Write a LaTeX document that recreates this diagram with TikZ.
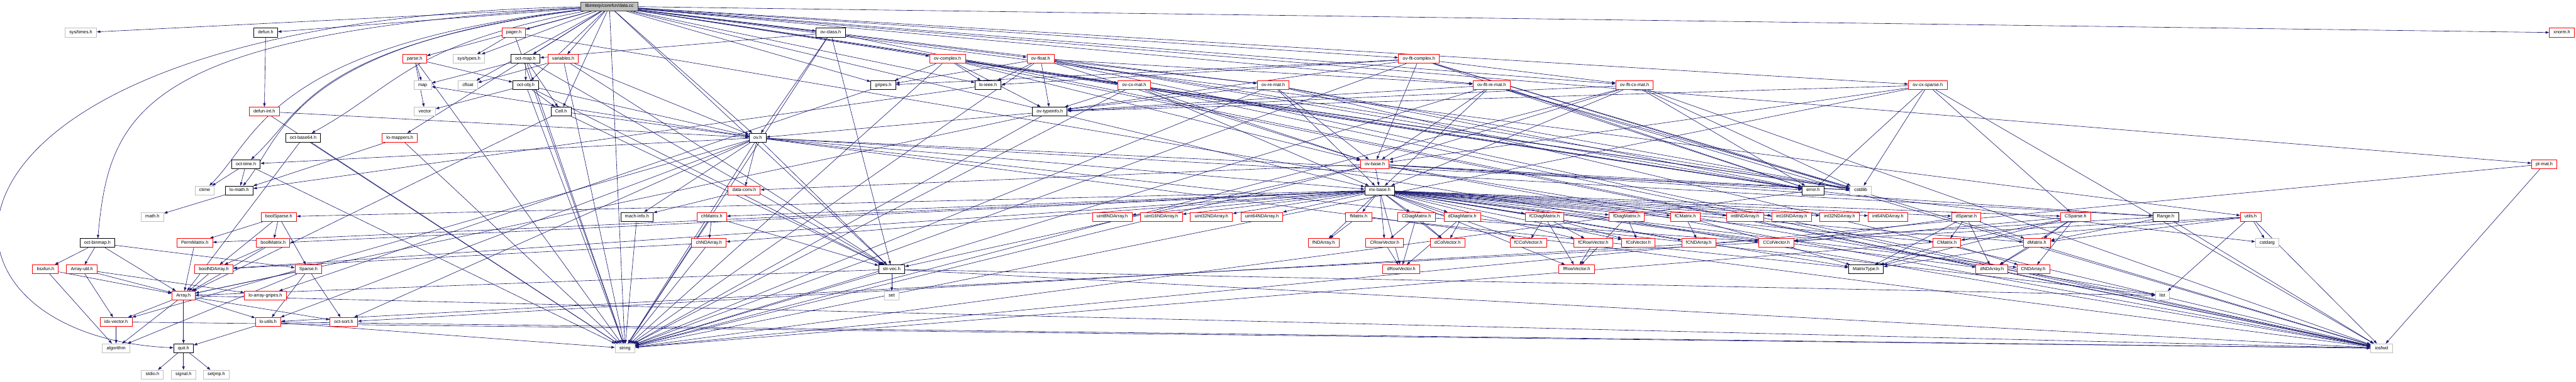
\documentclass[tikz,border=0pt]{standalone}
\usepackage{fontspec}
\setmainfont{Liberation Sans}
\usetikzlibrary{arrows.meta}
\definecolor{edgeblue}{HTML}{191970}
\definecolor{sysgray}{HTML}{BFBFBF}
\pgfdeclarelayer{bg}
\pgfsetlayers{bg,main}

\begin{document}
\begin{tikzpicture}[x=1pt, y=-74.6pt,
    file/.style={rectangle, draw, line width=1.6pt, fill=white, inner xsep=12pt, inner ysep=0pt,
      minimum height=25pt, text height=9.4pt, text depth=2.8pt, font=\fontsize{13}{15}\selectfont},
    srcfile/.style={file, fill=sysgray, draw=black!75},
    docfile/.style={file, draw=black},
    trunc/.style={file, draw=red},
    sysfile/.style={file, draw=sysgray},
    dep/.style={draw=edgeblue, line width=1.1pt, -{Triangle[length=10pt,width=7pt]}}]
    \useasboundingbox (0,-0.2413) rectangle (7300,14.276);
    \node[srcfile] (main) at (1727,0) {libinterp/corefcn/data.cc};
    \node[sysfile] (systimes) at (229,1) {sys/times.h};
    \node[docfile] (defun) at (753,1) {defun.h};
    \node[trunc] (pager) at (1456,1) {pager.h};
    \node[docfile] (ovclass) at (2354,1) {ov-class.h};
    \node[trunc] (xnorm) at (7260,1) {xnorm.h};
    \node[trunc] (parse) at (1175,2) {parse.h};
    \node[sysfile] (systypes) at (1329,2) {sys/types.h};
    \node[docfile] (octmap) at (1489,2) {oct-map.h};
    \node[trunc] (variables) at (1596,2) {variables.h};
    \node[trunc] (ovcomplex) at (2685,2) {ov-complex.h};
    \node[trunc] (ovfloat) at (2949,2) {ov-float.h};
    \node[trunc] (ovfltcomplex) at (4021,2) {ov-flt-complex.h};
    \node[sysfile] (map) at (1198,3) {map};
    \node[sysfile] (cfloat) at (1326,3) {cfloat};
    \node[docfile] (octobj) at (1490,3) {oct-obj.h};
    \node[docfile] (gripes) at (2503,3) {gripes.h};
    \node[docfile] (loieee) at (2800,3) {lo-ieee.h};
    \node[trunc] (ovcxmat) at (3214,3) {ov-cx-mat.h};
    \node[trunc] (ovremat) at (3608,3) {ov-re-mat.h};
    \node[trunc] (ovfltremat) at (4227,3) {ov-flt-re-mat.h};
    \node[trunc] (ovfltcxmat) at (4632,3) {ov-flt-cx-mat.h};
    \node[trunc] (ovcxsparse) at (5463,3) {ov-cx-sparse.h};
    \node[trunc] (defunint) at (749,4) {defun-int.h};
    \node[sysfile] (vector) at (1204,4) {vector};
    \node[docfile] (cell) at (1590,4) {Cell.h};
    \node[docfile] (ovtypeinfo) at (2975,4) {ov-typeinfo.h};
    \node[docfile] (octbase64) at (859,5) {oct-base64.h};
    \node[trunc] (lomappers) at (1133,5) {lo-mappers.h};
    \node[docfile] (ov) at (2147,5) {ov.h};
    \node[docfile] (octtime) at (697,6) {oct-time.h};
    \node[trunc] (ovbase) at (3896,6) {ov-base.h};
    \node[trunc] (ptmat) at (7210,6) {pt-mat.h};
    \node[sysfile] (ctime) at (580,7) {ctime};
    \node[docfile] (lomath) at (678,7) {lo-math.h};
    \node[trunc] (dataconv) at (2109,7) {data-conv.h};
    \node[docfile] (mxbase) at (3910,7) {mx-base.h};
    \node[docfile] (error) at (5138,7) {error.h};
    \node[sysfile] (cstdlib) at (5273,7) {cstdlib};
    \node[sysfile] (mathh) at (432,8) {math.h};
    \node[trunc] (boolsparse) at (790,8) {boolSparse.h};
    \node[docfile] (machinfo) at (1805,8) {mach-info.h};
    \node[trunc] (chmatrix) at (2017,8) {chMatrix.h};
    \node[trunc] (uint8) at (3152,8) {uint8NDArray.h};
    \node[trunc] (uint16) at (3291,8) {uint16NDArray.h};
    \node[trunc] (uint32) at (3433,8) {uint32NDArray.h};
    \node[trunc] (uint64) at (3576,8) {uint64NDArray.h};
    \node[trunc] (fmatrix) at (3850,8) {fMatrix.h};
    \node[trunc] (cdiag) at (4014,8) {CDiagMatrix.h};
    \node[trunc] (ddiag) at (4144,8) {dDiagMatrix.h};
    \node[trunc] (fcdiag) at (4377,8) {fCDiagMatrix.h};
    \node[trunc] (fdiag) at (4610,8) {fDiagMatrix.h};
    \node[trunc] (fcmatrix) at (4776,8) {fCMatrix.h};
    \node[trunc] (int8) at (4945,8) {int8NDArray.h};
    \node[trunc] (int16) at (5077,8) {int16NDArray.h};
    \node[trunc] (int32) at (5213,8) {int32NDArray.h};
    \node[trunc] (int64) at (5350,8) {int64NDArray.h};
    \node[trunc] (dsparse) at (5572,8) {dSparse.h};
    \node[trunc] (csparse) at (5882,8) {CSparse.h};
    \node[docfile] (range) at (6137,8) {Range.h};
    \node[trunc] (utils) at (6378,8) {utils.h};
    \node[docfile] (octbinmap) at (276,9) {oct-binmap.h};
    \node[trunc] (permmatrix) at (552,9) {PermMatrix.h};
    \node[trunc] (boolmatrix) at (774,9) {boolMatrix.h};
    \node[trunc] (chndarray) at (2009,9) {chNDArray.h};
    \node[trunc] (fndarray) at (3751,9) {fNDArray.h};
    \node[trunc] (crowvec) at (3924,9) {CRowVector.h};
    \node[trunc] (dcolvec) at (4102,9) {dColVector.h};
    \node[trunc] (fccolvec) at (4331,9) {fCColVector.h};
    \node[trunc] (fcrowvec) at (4515,9) {fCRowVector.h};
    \node[trunc] (fcolvec) at (4643,9) {fColVector.h};
    \node[trunc] (fcndarray) at (4814,9) {fCNDArray.h};
    \node[trunc] (ccolvec) at (5034,9) {CColVector.h};
    \node[trunc] (cmatrix) at (5517,9) {CMatrix.h};
    \node[trunc] (dmatrix) at (5772,9) {dMatrix.h};
    \node[sysfile] (cstdarg) at (6425,9) {cstdarg};
    \node[trunc] (bsxfun) at (129,10) {bsxfun.h};
    \node[trunc] (arrayutil) at (232,10) {Array-util.h};
    \node[trunc] (boolndarray) at (606,10) {boolNDArray.h};
    \node[trunc] (sparse) at (874,10) {Sparse.h};
    \node[docfile] (strvec) at (2527,10) {str-vec.h};
    \node[trunc] (drowvec) at (3971,10) {dRowVector.h};
    \node[trunc] (frowvec) at (4468,10) {fRowVector.h};
    \node[docfile] (matrixtype) at (5288,10) {MatrixType.h};
    \node[trunc] (dndarray) at (5645,10) {dNDArray.h};
    \node[trunc] (cndarray) at (5762,10) {CNDArray.h};
    \node[trunc] (array) at (520,11) {Array.h};
    \node[trunc] (loarraygripes) at (752,11) {lo-array-gripes.h};
    \node[sysfile] (set) at (2527,11) {set};
    \node[sysfile] (list) at (6128,11) {list};
    \node[trunc] (idxvector) at (329,12) {idx-vector.h};
    \node[trunc] (loutils) at (760,12) {lo-utils.h};
    \node[trunc] (octsort) at (974,12) {oct-sort.h};
    \node[sysfile] (algorithm) at (329,13) {algorithm};
    \node[docfile] (quit) at (520,13) {quit.h};
    \node[sysfile] (string) at (1771,13) {string};
    \node[sysfile] (iosfwd) at (6749,13) {iosfwd};
    \node[sysfile] (stdio) at (432,14) {stdio.h};
    \node[sysfile] (signal) at (520,14) {signal.h};
    \node[sysfile] (setjmp) at (613,14) {setjmp.h};
    \begin{pgfonlayer}{bg}
    \draw[dep] (main) .. controls (-300,0.5) and (-300,12.5) .. (quit);
    \draw[dep] (main) .. controls (400,1) and (310,4) .. (octbinmap);
    \draw[dep] (main) .. controls (760,1.5) and (730,5) .. (ctime);
    \draw[dep] (main) .. controls (820,1.5) and (800,5) .. (lomath);
    \draw[dep] (main) .. controls (880,1.5) and (860,4) .. (octtime);
    \draw[dep] (main) .. controls (1150,1.5) and (1130,3) .. (octbase64);
    \foreach \s/\tl in {
        main/{systimes,defun,pager,ovclass,xnorm,parse,systypes,octmap,variables,ovcomplex,ovfloat,
          ovfltcomplex,cfloat,octobj,gripes,loieee,ovcxmat,ovremat,ovfltremat,ovfltcxmat,ovcxsparse,
          cell,ov,ptmat,mxbase,error,utils,strvec,string,lomappers},
        defun/{defunint}, defunint/{string,ov}, pager/{systypes,string,iosfwd},
        parse/{map,vector,string,octobj}, octmap/{octobj,cell,map,string,strvec},
        variables/{cfloat,string,ov,strvec}, ovclass/{octmap,ov,string,iosfwd,strvec},
        octobj/{vector,cell,ov,string,strvec}, cell/{ov,array,strvec},
        ov/{dataconv,string,list,iosfwd,cstdlib,range,idxvector,machinfo,mxbase,strvec,octsort,octtime,map,loutils},
        octtime/{ctime,lomath,string}, lomath/{mathh}, octbase64/{string,array}, lomappers/{lomath,string},
        dataconv/{machinfo}, machinfo/{string}, chmatrix/{chndarray,strvec,string}, chndarray/{boolndarray,string},
        strvec/{set,string,list,iosfwd,array},
        mxbase/{boolsparse,permmatrix,boolmatrix,boolndarray,chmatrix,chndarray,uint8,uint16,uint32,uint64,
          fmatrix,cdiag,ddiag,fcdiag,fdiag,fcmatrix,fndarray,crowvec,dcolvec,fccolvec,fcrowvec,fcolvec,
          fcndarray,drowvec,frowvec,int8,int16,int32,int64,dsparse,csparse,ccolvec,cmatrix,dmatrix,
          dndarray,cndarray,matrixtype},
        fmatrix/{fndarray,matrixtype}, cdiag/{crowvec,ccolvec,drowvec,dcolvec}, ddiag/{dcolvec,drowvec},
        crowvec/{drowvec}, fcdiag/{fccolvec,fcrowvec,fcolvec,frowvec}, fdiag/{fcolvec,frowvec},
        fcrowvec/{frowvec}, fcmatrix/{fcndarray,matrixtype},
        dsparse/{ccolvec,cmatrix,dmatrix,dndarray,matrixtype},
        csparse/{ccolvec,cmatrix,dmatrix,dndarray,cndarray,matrixtype},
        cmatrix/{matrixtype,cndarray}, dmatrix/{dndarray,matrixtype},
        boolsparse/{permmatrix,boolmatrix,boolndarray,sparse}, permmatrix/{array},
        boolmatrix/{boolndarray,array}, boolndarray/{array}, sparse/{array,loutils,octsort,algorithm},
        octbinmap/{bsxfun,arrayutil,array,sparse}, bsxfun/{array,algorithm},
        arrayutil/{array,idxvector,loarraygripes}, array/{idxvector,algorithm,quit,loutils,octsort,iosfwd},
        idxvector/{algorithm,iosfwd}, loutils/{quit,iosfwd,string}, quit/{stdio,signal,setjmp},
        gripes/{loarraygripes}, loieee/{lomath}, ovtypeinfo/{string,array,ov},
        ovbase/{mxbase,cstdlib,string,list,iosfwd,error,range,dataconv,strvec},
        ovcomplex/{ovbase,ovtypeinfo,gripes,loieee,string,iosfwd,cstdlib,error,ovcxmat},
        ovfloat/{ovbase,ovtypeinfo,gripes,loieee,string,iosfwd,cstdlib,error,ovremat,ovfltremat},
        ovfltcomplex/{ovbase,ovtypeinfo,gripes,loieee,string,iosfwd,cstdlib,error,ovfltcxmat},
        ovcxmat/{ovbase,ovtypeinfo,mxbase,string,iosfwd,cstdlib,error},
        ovremat/{ovbase,ovtypeinfo,mxbase,string,iosfwd,cstdlib,error},
        ovfltremat/{ovbase,ovtypeinfo,mxbase,string,iosfwd,cstdlib,error},
        ovfltcxmat/{ovbase,ovtypeinfo,mxbase,string,iosfwd,cstdlib,error},
        ovcxsparse/{ovbase,ovtypeinfo,csparse,string,iosfwd,cstdlib,error},
        utils/{cstdarg,list,iosfwd,string,dmatrix,loutils}, range/{iosfwd,dmatrix,octsort},
        ptmat/{iosfwd,string}, error/{cstdarg,string}}
      \foreach \t in \tl \draw[dep] (\s) -- (\t);
    \end{pgfonlayer}
\end{tikzpicture}
\end{document}
